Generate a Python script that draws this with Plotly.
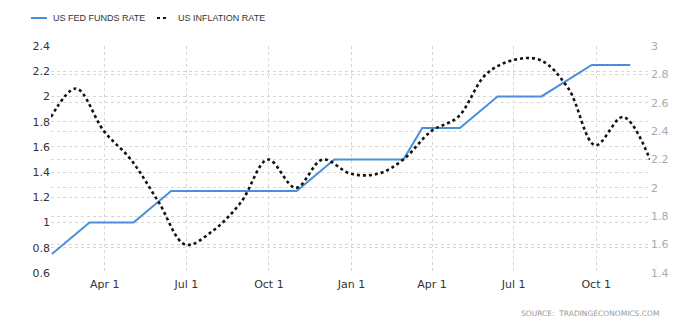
import plotly.graph_objects as go

# US Fed funds target rate (upper bound), by FOMC meeting date
fed_dates = ["2017-02-01", "2017-03-15", "2017-05-03", "2017-06-14", "2017-07-26",
             "2017-09-20", "2017-11-01", "2017-12-13", "2018-01-31", "2018-02-28",
             "2018-03-21", "2018-05-02", "2018-06-13", "2018-08-01", "2018-09-26",
             "2018-11-08"]
fed_rate = [0.75, 1.00, 1.00, 1.25, 1.25, 1.25, 1.25, 1.50, 1.50, 1.50,
            1.75, 1.75, 2.00, 2.00, 2.25, 2.25]

# US CPI inflation, year over year, month-end
cpi_dates = ["2017-01-31", "2017-02-28", "2017-03-31", "2017-04-30", "2017-05-31",
             "2017-06-30", "2017-07-31", "2017-08-31", "2017-09-30", "2017-10-31",
             "2017-11-30", "2017-12-31", "2018-01-31", "2018-02-28", "2018-03-31",
             "2018-04-30", "2018-05-31", "2018-06-30", "2018-07-31", "2018-08-31",
             "2018-09-30", "2018-10-31", "2018-11-30"]
cpi_rate = [2.5, 2.7, 2.4, 2.2, 1.9, 1.6, 1.7, 1.9, 2.2, 2.0, 2.2, 2.1,
            2.1, 2.2, 2.4, 2.5, 2.8, 2.9, 2.9, 2.7, 2.3, 2.5, 2.2]

x_ticks = ["2017-04-01", "2017-07-01", "2017-10-01", "2018-01-01",
           "2018-04-01", "2018-07-01", "2018-10-01"]
x_tick_labels = ["Apr 1", "Jul 1", "Oct 1", "Jan 1", "Apr 1", "Jul 1", "Oct 1"]

left_ticks = [0.6, 0.8, 1.0, 1.2, 1.4, 1.6, 1.8, 2.0, 2.2, 2.4]
left_labels = ["0.6", "0.8", "1", "1.2", "1.4", "1.6", "1.8", "2", "2.2", "2.4"]
right_ticks = [1.4, 1.6, 1.8, 2.0, 2.2, 2.4, 2.6, 2.8, 3.0]
right_labels = ["1.4", "1.6", "1.8", "2", "2.2", "2.4", "2.6", "2.8", "3"]

BLUE = "#4a8fdc"
GRID = "#d6d6d6"
TICK_FONT = dict(family="DejaVu Sans", size=11, color="#333333")

# plot area in pixels, used to place the legend row and the source line
PLOT_W, PLOT_H = 599, 227

fig = go.Figure()
fig.add_trace(go.Scatter(
    x=fed_dates, y=fed_rate, mode="lines", name="US FED FUNDS RATE",
    line=dict(color=BLUE, width=2), yaxis="y"))
fig.add_trace(go.Scatter(
    x=cpi_dates, y=cpi_rate, mode="lines", name="US INFLATION RATE",
    line=dict(color="#111111", width=2.6, dash="dot", shape="spline", smoothing=1.0),
    yaxis="y2"))

fig.update_layout(
    width=700, height=326,
    margin=dict(l=51, r=50, t=46, b=53),
    paper_bgcolor="white", plot_bgcolor="white",
    showlegend=False,
    xaxis=dict(
        type="date", range=["2017-01-31", "2018-11-30"],
        tickvals=x_ticks, ticktext=x_tick_labels,
        showgrid=True, gridcolor=GRID, griddash="dot", gridwidth=1,
        zeroline=False, showline=False, ticks="", ticklabelstandoff=3,
        tickfont=TICK_FONT),
    yaxis=dict(
        range=[0.6, 2.4], tickvals=left_ticks, ticktext=left_labels,
        showgrid=True, gridcolor=GRID, griddash="dot", gridwidth=1,
        zeroline=False, showline=False, ticks="", tickfont=TICK_FONT),
    yaxis2=dict(
        range=[1.4, 3.0], tickvals=right_ticks, ticktext=right_labels,
        overlaying="y", side="right",
        showgrid=True, gridcolor=GRID, griddash="dot", gridwidth=1,
        zeroline=False, showline=False, ticks="",
        tickfont=dict(family="DejaVu Sans", size=11, color="#aaaaaa")),
)

# Legend row drawn above the plot
legend_y = (273 - 18) / PLOT_H
fig.add_shape(type="line", xref="paper", yref="paper",
              x0=-20 / PLOT_W, x1=-4 / PLOT_W, y0=legend_y, y1=legend_y,
              line=dict(color=BLUE, width=2))
fig.add_shape(type="line", xref="paper", yref="paper",
              x0=106 / PLOT_W, x1=118 / PLOT_W, y0=legend_y, y1=legend_y,
              line=dict(color="#111111", width=2, dash="dot"))
legend_font = dict(family="Liberation Sans", size=9, color="#333333")
fig.add_annotation(text="US FED FUNDS RATE", xref="paper", yref="paper",
                   x=0 / PLOT_W, y=legend_y, xanchor="left", yanchor="middle",
                   showarrow=False, font=legend_font)
fig.add_annotation(text="US INFLATION RATE", xref="paper", yref="paper",
                   x=125 / PLOT_W, y=legend_y, xanchor="left", yanchor="middle",
                   showarrow=False, font=legend_font)

fig.add_annotation(text="SOURCE:  TRADINGECONOMICS.COM", xref="paper", yref="paper",
                   x=(661 - 51) / PLOT_W, y=(273 - 313) / PLOT_H,
                   xanchor="right", yanchor="middle", showarrow=False,
                   font=dict(family="DejaVu Sans", size=7.5, color="#999999"))

fig.write_html("out.html")
